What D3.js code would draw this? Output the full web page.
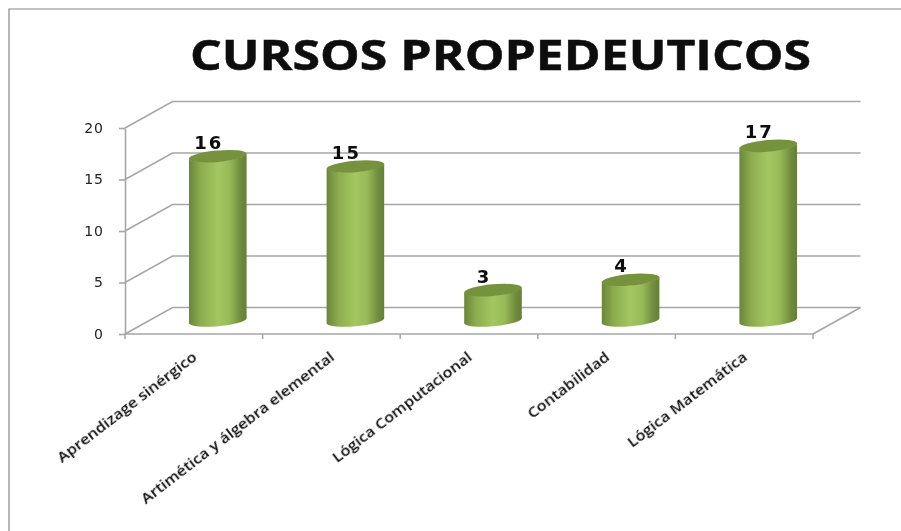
<!DOCTYPE html>
<html><head><meta charset="utf-8">
<script src="https://cdn.jsdelivr.net/npm/d3@7"></script>
<style>html,body{margin:0;padding:0;background:#fff}svg{display:block}</style>
</head><body><div id="c"></div>
<script>
const categories = ["Aprendizage sinérgico","Artimética y álgebra elemental","Lógica Computacional","Contabilidad","Lógica Matemática"];
const values = [16,15,3,4,17];
const yTicks = [0,5,10,15,20];
const titleText = "CURSOS PROPEDEUTICOS";

const W=901,H=531;
const svg=d3.select("#c").append("svg").attr("width",W).attr("height",H);
const defs=svg.append("defs");
const grad=defs.append("linearGradient").attr("id","cyl").attr("x1",0).attr("x2",1).attr("y1",0).attr("y2",0);
[[0,"#6a8639"],[0.2,"#8cac4e"],[0.5,"#a3c761"],[0.7,"#98ba58"],[0.9,"#6f8b3e"],[1,"#64803a"]].forEach(s=>grad.append("stop").attr("offset",s[0]).attr("stop-color",s[1]));
const blur=defs.append("filter").attr("id","soft").attr("x","-5%").attr("y","-5%").attr("width","110%").attr("height","110%");
blur.append("feGaussianBlur").attr("stdDeviation",0.45);

svg.append("path").attr("d","M9,531V9H901").attr("fill","none").attr("stroke","#868686").attr("stroke-width",1.2);

svg.append("text").text(titleText).attr("x",190).attr("y",69.5)
 .attr("textLength",621).attr("lengthAdjust","spacingAndGlyphs")
 .attr("font-family","Open Sans, Noto Sans, sans-serif").attr("font-weight",700).attr("font-size",42).attr("fill","#0a0a0a")
 .attr("stroke","#0a0a0a").attr("stroke-width",0.5)
 .attr("filter","url(#soft)");

const dx=47.5,dy=-26.5;
const x=d3.scaleBand().domain(categories).range([125,813]);
const y=d3.scaleLinear().domain([0,20]).range([334,128]);
const g="#a6a6a6";
const grid=svg.append("g").attr("fill","none").attr("stroke",g).attr("stroke-width",1.5);
yTicks.forEach(t=>{
  grid.append("path").attr("d",`M${x.range()[0]},${y(t)}L${x.range()[0]+dx},${y(t)+dy}L${x.range()[1]+dx},${y(t)+dy}`);
});
grid.append("path").attr("d",`M${x.range()[1]},${y(0)}L${x.range()[1]+dx},${y(0)+dy}`);

const yAxis=d3.axisLeft(y).tickValues(yTicks).tickSize(6).tickPadding(15).tickSizeOuter(0);
const ya=svg.append("g").attr("transform",`translate(${x.range()[0]},0)`).call(yAxis);
const xTickPos=categories.map(c=>x(c)).concat(x.range()[1]);
const xa=svg.append("g").attr("stroke",g);
xa.selectAll("line").data(xTickPos).join("line").attr("x1",d=>d).attr("x2",d=>d).attr("y1",y(0)).attr("y2",y(0)+5).attr("stroke-width",1.5);
xa.append("line").attr("x1",x.range()[0]).attr("x2",x.range()[1]).attr("y1",y(0)).attr("y2",y(0)).attr("stroke-width",1.5);
ya.selectAll("path,line").attr("stroke",g).attr("stroke-width",1.6);
ya.selectAll("text").attr("font-family","DejaVu Sans, sans-serif").attr("font-size",14).attr("fill","#222").attr("letter-spacing",1).attr("filter","url(#soft)");

const bw=57.6,rx=29,ry=5.8,rot=-5,tilt=2.5;
const offX=24,offY=-13;
const bars=svg.append("g");
categories.forEach((c,i)=>{
  const cx=x(c)+x.bandwidth()/2+offX;
  const yb=y(0)+offY;
  const yt=y(values[i])+offY;
  const d=`M${cx-bw/2},${yt+tilt}L${cx-bw/2},${yb+tilt}A${rx},${ry} ${rot} 0 0 ${cx+bw/2},${yb-tilt}L${cx+bw/2},${yt-tilt}A${rx},${ry} ${rot} 0 1 ${cx-bw/2},${yt+tilt}Z`;
  bars.append("path").attr("d",d).attr("fill","url(#cyl)");
  bars.append("ellipse").attr("cx",cx).attr("cy",yt).attr("rx",rx).attr("ry",ry)
    .attr("transform",`rotate(${rot} ${cx} ${yt})`).attr("fill","#76923c");
  bars.append("text").text(values[i]).attr("x",cx-9).attr("y",yt-7.5).attr("text-anchor","middle")
    .attr("font-family","DejaVu Sans, sans-serif").attr("font-weight",700).attr("font-size",18).attr("letter-spacing",2).attr("fill","#0a0a0a")
    .attr("filter","url(#soft)");
});

svg.append("g").selectAll("text").data(categories).join("text").text(d=>d)
  .attr("text-anchor","end")
  .attr("transform",d=>`translate(${x(d)+x.bandwidth()/2+4},359) rotate(-37.5) scale(1.12,1)`)
  .attr("font-family","Open Sans, Noto Sans, sans-serif").attr("font-weight",600).attr("font-size",14.4).attr("fill","#111")
  .attr("filter","url(#soft)");
</script></body></html>
